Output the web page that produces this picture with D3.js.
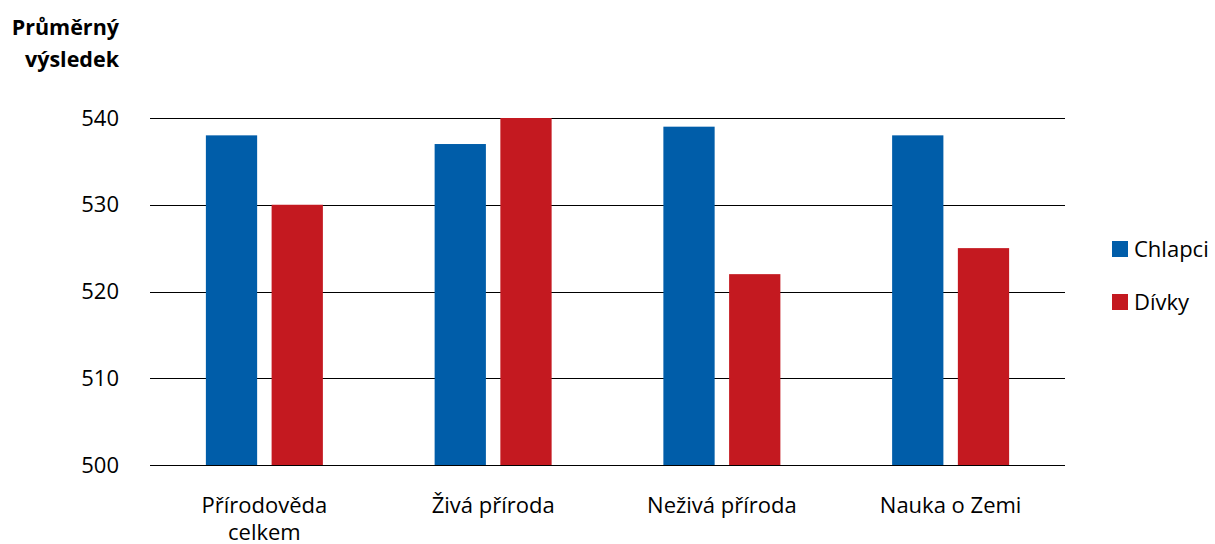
<!DOCTYPE html>
<html>
<head>
<meta charset="utf-8">
<script src="https://cdn.jsdelivr.net/npm/d3@7"></script>
<style>
  body { margin: 0; background: #fff; }
  svg { display: block; font-family: "Open Sans", Lato, sans-serif; }
</style>
</head>
<body>
<div id="chart"></div>
<script>
const WIDTH = 1215;
const HEIGHT = 544;

// data
const categories = [['Přírodověda', 'celkem'], ['Živá příroda'], ['Neživá příroda'], ['Nauka o Zemi']];
const seriesNames = ['Chlapci', 'Dívky'];
const seriesColors = ['#005DA9', '#C41920'];
const chlapci = [538, 537, 539, 538];
const divky = [530, 540, 522, 525];
const yTicks = [500, 510, 520, 530, 540];

const values = [chlapci, divky];
const margin = { left: 150, right: 150, top: 118, bottom: 79 };
const FS = 22;

const svg = d3.select('#chart').append('svg')
  .attr('width', WIDTH)
  .attr('height', HEIGHT);

const x = d3.scaleBand()
  .domain(d3.range(categories.length))
  .range([margin.left, WIDTH - margin.right]);

const y = d3.scaleLinear()
  .domain([500, 540])
  .range([HEIGHT - margin.bottom, margin.top]);

// inner band for the two bars
const xInner = d3.scaleBand()
  .domain(d3.range(seriesNames.length))
  .range([0, 117])
  .paddingInner(0.22);

// gridlines
svg.append('g')
  .selectAll('line')
  .data(yTicks)
  .join('line')
  .attr('x1', margin.left)
  .attr('x2', WIDTH - margin.right)
  .attr('y1', d => Math.round(y(d)) + 0.5)
  .attr('y2', d => Math.round(y(d)) + 0.5)
  .attr('stroke', '#000')
  .attr('stroke-width', 1.2);

// y tick labels
svg.append('g')
  .selectAll('text')
  .data(yTicks)
  .join('text')
  .attr('x', 119)
  .attr('y', d => y(d))
  .attr('dy', '0.35em')
  .attr('text-anchor', 'end')
  .attr('font-size', FS)
  .attr('fill', '#000')
  .text(d => d);

// bars
const groups = svg.append('g')
  .selectAll('g')
  .data(categories)
  .join('g')
  .attr('transform', (d, i) => `translate(${x(i) + x.bandwidth() / 2 - 58.5},0)`);

groups.selectAll('rect')
  .data((d, i) => values.map((s, j) => ({ s: j, v: s[i] })))
  .join('rect')
  .attr('x', d => xInner(d.s))
  .attr('width', xInner.bandwidth())
  .attr('y', d => y(d.v))
  .attr('height', d => y(500) - y(d.v))
  .attr('fill', d => seriesColors[d.s]);

// category labels
const catLabels = svg.append('g')
  .selectAll('text')
  .data(categories)
  .join('text')
  .attr('text-anchor', 'middle')
  .attr('font-size', FS)
  .attr('fill', '#000')
  .attr('transform', (d, i) => `translate(${x(i) + x.bandwidth() / 2},${HEIGHT - margin.bottom + 48})`);

catLabels.selectAll('tspan')
  .data(d => d)
  .join('tspan')
  .attr('x', 0)
  .attr('dy', (d, i) => (i === 0 ? 0 : 27))
  .text(d => d);

// axis title
svg.append('text')
  .attr('text-anchor', 'end')
  .attr('font-size', 21.5)
  .attr('font-weight', 'bold')
  .attr('fill', '#000')
  .selectAll('tspan')
  .data(['Průměrný', 'výsledek'])
  .join('tspan')
  .attr('x', 119)
  .attr('y', (d, i) => 35 + i * 32)
  .text(d => d);

// legend
const legend = svg.append('g')
  .selectAll('g')
  .data(seriesNames)
  .join('g')
  .attr('transform', (d, i) => `translate(1112,${241 + i * 53})`);

legend.append('rect')
  .attr('width', 16)
  .attr('height', 16)
  .attr('fill', (d, i) => seriesColors[i]);

legend.append('text')
  .attr('x', 22)
  .attr('y', 8)
  .attr('dy', '0.35em')
  .attr('font-size', FS)
  .attr('fill', '#000')
  .text(d => d);
</script>
</body>
</html>
